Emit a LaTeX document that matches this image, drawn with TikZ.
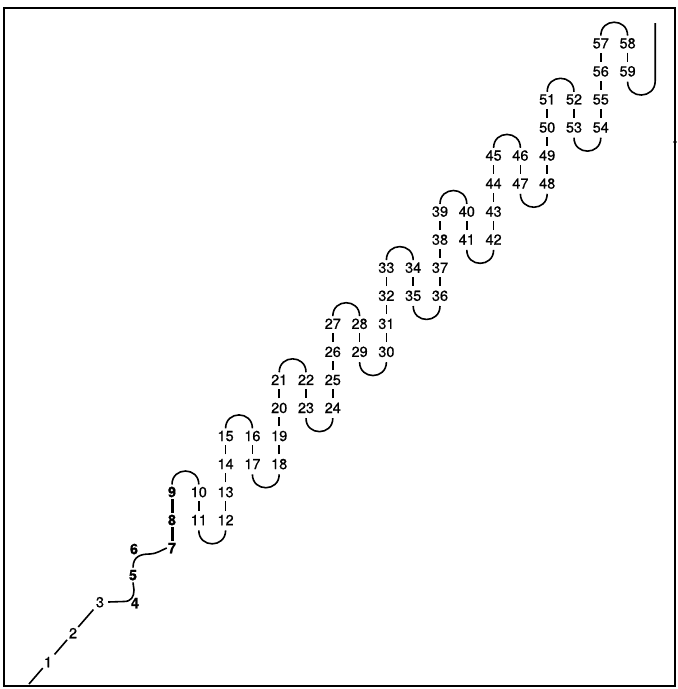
\documentclass[tikz,border=0pt]{standalone}
\usepackage{fontspec}
\setmainfont{TeX Gyre Heros}
\newfontfamily\labfont{TeX Gyre Heros}[FakeBold=0.7]
\begin{document}
\begin{tikzpicture}[x=1pt,y=-1pt,
  lab/.style={font=\labfont\fontsize{14.5}{15}\selectfont, inner xsep=1pt, inner ysep=2pt, text height=10.5pt, text depth=0pt},
  blab/.style={lab, font=\labfont\fontsize{14.5}{15}\selectfont\bfseries},
  bar/.style={line width=1.5pt, shorten <=2pt, shorten >=2pt},
  thickbar/.style={line width=3pt},
  loopline/.style={line width=1.6pt},
  seg/.style={line width=1.6pt},
  frame/.style={line width=1.3pt}]
\useasboundingbox (0,0) rectangle (678,689);
\draw[frame] (4,8) rectangle (675,686);
\fill (675,142) circle (1.8);
% lower nodes
\node[lab] (n1) at (48,662) {1};
\node[lab] (n2) at (73,633) {2};
\node[lab] (n3) at (100,602) {3};
\node[blab] (n4) at (135,603) {4};
\node[blab] (n5) at (133,575) {5};
\node[blab] (n6) at (134,549) {6};
% grid nodes
\foreach \n/\c/\r in {7/0/0,8/0/1,9/0/2}
  \node[blab] (n\n) at ({172+26.8*\c},{548-28.05*\r}) {\n};
\foreach \n/\c/\r in {10/1/2,11/1/1,12/2/1,13/2/2,14/2/3,15/2/4,16/3/4,17/3/3,
  18/4/3,19/4/4,20/4/5,21/4/6,22/5/6,23/5/5,24/6/5,25/6/6,26/6/7,27/6/8,
  28/7/8,29/7/7,30/8/7,31/8/8,32/8/9,33/8/10,34/9/10,35/9/9,36/10/9,37/10/10,
  38/10/11,39/10/12,40/11/12,41/11/11,42/12/11,43/12/12,44/12/13,45/12/14,
  46/13/14,47/13/13,48/14/13,49/14/14,50/14/15,51/14/16,52/15/16,53/15/15,
  54/16/15,55/16/16,56/16/17,57/16/18,58/17/18,59/17/17}
  \node[lab] (n\n) at ({172+26.8*\c},{548-28.05*\r}) {\n};
% bars
\draw[thickbar] (n7) -- (n8);
\draw[thickbar] (n8) -- (n9);
\foreach \a/\b in {10/11,12/13,13/14,14/15,16/17,18/19,19/20,20/21,22/23,24/25,
  25/26,26/27,28/29,30/31,31/32,32/33,34/35,36/37,37/38,38/39,40/41,42/43,43/44,
  44/45,46/47,48/49,49/50,50/51,52/53,54/55,55/56,56/57,58/59}
  \draw[bar] (n\a) -- (n\b);
% loops above
\foreach \a/\b in {9/10,15/16,21/22,27/28,33/34,39/40,45/46,51/52,57/58}
  \draw[loopline] (n\a.north) .. controls +(0,-17.9) and +(0,-17.9) .. (n\b.north);
% loops below
\foreach \a/\b in {11/12,17/18,23/24,29/30,35/36,41/42,47/48,53/54}
  \draw[loopline] ([yshift=-3pt]n\a.south) .. controls +(0,17.9) and +(0,17.9) .. ([yshift=-3pt]n\b.south);
% final tail
\coordinate (t1) at (655.2,81);
\coordinate (t2) at (655.2,23);
\draw[loopline] ([yshift=-3pt]n59.south) .. controls +(0,18.3) and +(0,18.3) .. (t1) -- (t2);
% lower chain
\coordinate (c0) at (29,684);
\draw[seg, shorten >=8pt] (c0) -- (n1.center);
\draw[seg, shorten <=10pt, shorten >=9pt] (n1.center) -- (n2.center);
\draw[seg, shorten <=8pt, shorten >=10pt] (n2.center) -- (n3.center);
\draw[seg] ([xshift=3pt]n3.east) -- (124,601.5) .. controls (131,601.5) and (134,597) .. (134,590) -- (n5.south);
\draw[seg] (n5.north) .. controls +(0,-12) and +(-8,0) .. (150,554) .. controls +(6,0) and +(-5,2) .. (n7.west);
\end{tikzpicture}
\end{document}
